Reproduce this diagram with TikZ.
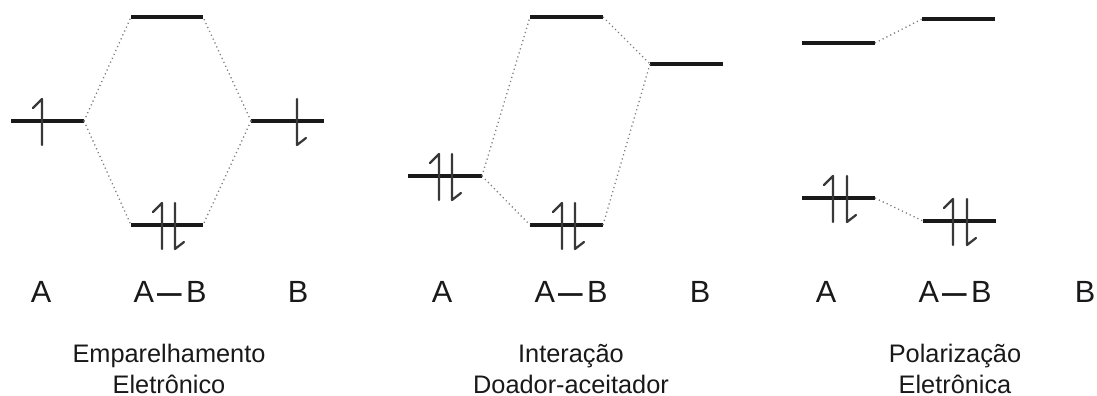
\documentclass[tikz,border=0pt]{standalone}
\usepackage{fontspec}
\setmainfont{Liberation Sans}
\tikzset{
  x=0.75pt,y=-0.75pt,
  lvl/.style={line width=2.3pt,black!90},
  spinline/.style={line width=1.7pt,black!78,line cap=round,line join=round},
  link/.style={line width=1pt,black!50,dash pattern=on 0.9pt off 2.3pt},
  big/.style={inner sep=0pt,anchor=base,font=\fontsize{23}{27}\selectfont,text=black!90},
  captext/.style={inner sep=0pt,align=center,anchor=south,text depth=0pt,font=\fontsize{19}{23.7}\selectfont,text=black!90}
}
\newcommand{\abdash}{A\kern2.6pt\raisebox{-2.6pt}{\scalebox{.8}[1.35]{—}}\kern3pt B}
% \lev{name}{x1}{x2}{y}
\newcommand{\lev}[4]{%
  \coordinate (#1l) at (#2,#4);
  \coordinate (#1r) at (#3,#4);
  \draw[lvl] (#1l) -- (#1r);}
\newcommand{\spinup}[2]{\draw[spinline] (#1-9,#2-13) -- (#1,#2-22) -- (#1,#2+24);}
\newcommand{\spindn}[2]{\draw[spinline] (#1+9,#2+17) -- (#1,#2+24) -- (#1,#2-22);}
\begin{document}
\begin{tikzpicture}
\useasboundingbox (0,0) rectangle (1097,396);
% panel 1
\lev{pa}{11}{84}{121}
\lev{pt}{131}{203}{17}
\lev{pb}{131}{203}{225}
\lev{pc}{251}{324}{121}
\draw[link] (par) -- (ptl);
\draw[link] (par) -- (pbl);
\draw[link] (pcl) -- (ptr);
\draw[link] (pcl) -- (pbr);
\spinup{42}{121}
\spindn{297}{121}
\spinup{162}{225}
\spindn{175}{225}
% panel 2
\lev{qa}{408}{482}{176}
\lev{qt}{530}{603}{17}
\lev{qb}{530}{603}{225}
\lev{qc}{650}{723}{64}
\draw[link] (qar) -- (qtl);
\draw[link] (qar) -- (qbl);
\draw[link] (qtr) -- (qcl);
\draw[link] (qbr) -- (qcl);
\spinup{439}{176}
\spindn{452}{176}
\spinup{562}{225}
\spindn{575}{225}
% panel 3
\lev{ra}{802}{875}{43}
\lev{rb}{802}{875}{198}
\lev{rc}{922}{995}{19}
\lev{rd}{923}{996}{221}
\draw[link] (rar) -- (rcl);
\draw[link] (rbr) -- (rdl);
\spinup{833}{198}
\spindn{847}{198}
\spinup{953}{221}
\spindn{967}{221}
% labels
\node[big] (l1) at (41,302) {A};
\node[big] (l2) at (170,302) {\abdash};
\node[big] (l3) at (298,302) {B};
\node[big] (l4) at (442,302) {A};
\node[big] (l5) at (571,302) {\abdash};
\node[big] (l6) at (700,302) {B};
\node[big] (l7) at (826,302) {A};
\node[big] (l8) at (955,302) {\abdash};
\node[big] (l9) at (1085,302) {B};
\node[captext] (c1) at (169,394) {Emparelhamento\\Eletrônico};
\node[captext] (c2) at (571,394) {Interação\\Doador-aceitador};
\node[captext] (c3) at (955,394) {Polarização\\Eletrônica};
\end{tikzpicture}
\end{document}
